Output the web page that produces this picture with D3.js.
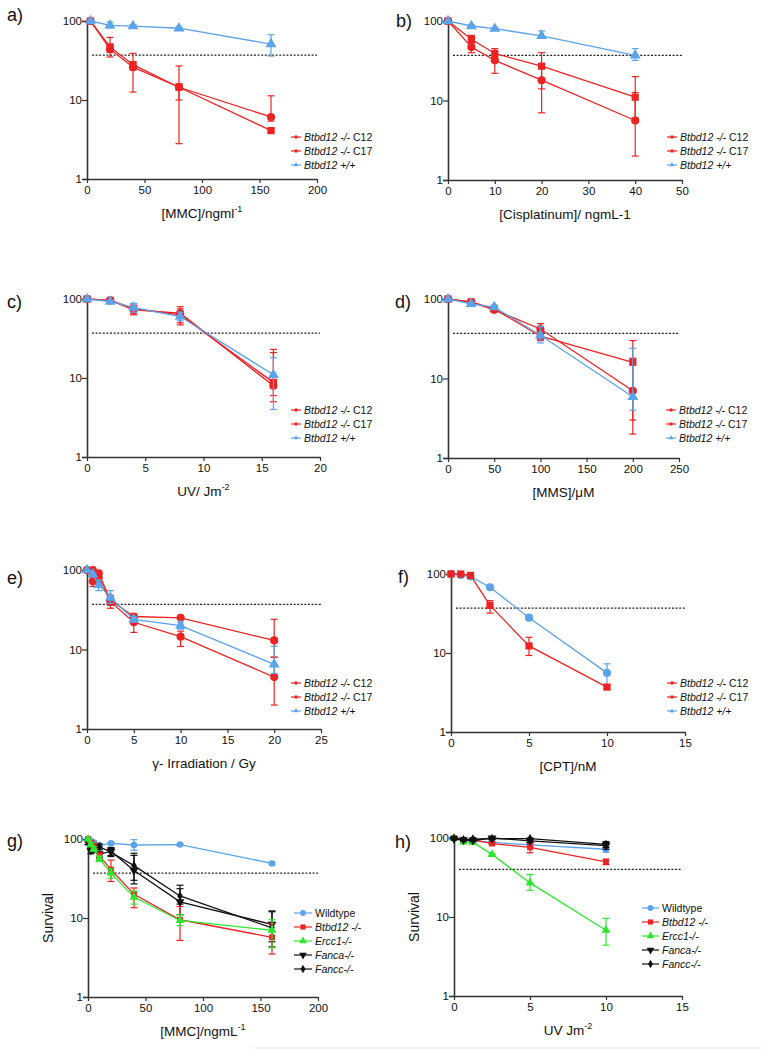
<!DOCTYPE html>
<html><head><meta charset="utf-8">
<script src="https://cdn.jsdelivr.net/npm/d3@7"></script>
<style>body{margin:0;background:#fff;} text{font-family:Arial,"Liberation Sans",sans-serif;fill:#111;}</style>
</head><body><svg id="c" width="762" height="1049"></svg>
<script>
// ---------- DATA ----------
// a) MMC
const aDose = [3, 20, 40, 80, 160];
const aC12 = [100, 44, 26, 14.5, 6.1], aC12Lo = [100, 35, 12.6, 2.8, 5.4], aC12Hi = [100, 50, 30, 27, 11.3];
const aC17 = [100, 47, 28, 14.5, 4.1], aC17Lo = [100, 40, 24, 10, 3.9], aC17Hi = [100, 62, 39, 16, 4.3];
const aWT = [100, 88, 86, 81, 51], aWTLo = [100, 82, 82, 78, 36], aWTHi = [100, 97, 90, 84, 67];
// b) Cisplatinum
const bDose = [0, 5, 10, 20, 40];
const bC12 = [100, 47, 32, 18, 5.6], bC12Lo = [100, 40, 22, 7, 2], bC12Hi = [100, 53, 38, 28, 12.6];
const bC17 = [100, 59, 39, 27, 11], bC17Lo = [100, 53, 34, 14, 6], bC17Hi = [100, 66, 45, 40, 20];
const bWT = [100, 86.5, 80, 65, 37], bWTLo = [100, 84, 78, 62, 32], bWTHi = [100, 89, 82, 75, 45];
// c) UV
const cDose = [0, 2, 4, 8, 16];
const cC12 = [100, 96, 73, 66, 8], cC12Lo = [100, 93, 63, 47, 5], cC12Hi = [100, 99, 80, 80, 23];
const cC17 = [100, 96, 76, 63, 8.8], cC17Lo = [100, 93, 65, 50, 6], cC17Hi = [100, 99, 87, 75, 21];
const cWT = [100, 93, 78, 60, 11], cWTLo = [100, 90, 68, 53, 4], cWTHi = [100, 96, 88, 68, 18];
// d) MMS
const dDose = [0, 25, 50, 100, 200];
const dC12 = [100, 91, 73, 42, 7], dC12Lo = [100, 88, 70, 36, 3], dC12Hi = [100, 94, 76, 49, 18];
const dC17 = [100, 92, 75, 34, 16], dC17Lo = [100, 89, 71, 30, 2], dC17Hi = [100, 95, 79, 38, 30];
const dWT = [100, 87, 79, 35, 5.9], dWTLo = [100, 84, 74, 28, 4], dWTHi = [100, 90, 84, 45, 24];
// e) gamma irradiation
const eDose = [0, 0.625, 1.25, 2.5, 5, 10, 20];
const eC12 = [100, 100, 91, 42, 26, 25, 13], eC12Lo = [100, 98, 85, 36, 24, 24, 8], eC12Hi = [100, 100, 96, 48, 28, 26, 24];
const eC17 = [100, 72, 80, 40, 22, 14.5, 4.5], eC17Lo = [100, 62, 70, 33, 16.4, 10.9, 2], eC17Hi = [100, 82, 90, 47, 26, 17, 8];
const eWT = [100, 88, 65, 45, 24, 20, 6.5], eWTLo = [100, 85, 55, 38, 22, 18, 5], eWTHi = [100, 91, 75, 55, 26, 22, 11];
// f) CPT
const fDose = [0, 0.625, 1.25, 2.5, 5, 10];
const fC17 = [100, 100, 96, 40, 12.3, 3.7], fC17Lo = [100, 98, 93, 32, 9.3, 3.5], fC17Hi = [100, 100, 99, 46, 15.8, 3.9];
const fWT = [100, 97, 93, 68, 28, 5.6], fWTLo = [100, 95, 91, 66, 27, 3.9], fWTHi = [100, 99, 95, 70, 29.5, 7.3];
// g) MMC, five genotypes
const gDose = [0, 2.5, 5, 10, 20, 40, 80, 160];
const gWT = [100, 95, 90, 83, 88, 84, 85, 49], gWTLo = [100, 92, 86, 80, 85, 72, 83, 47], gWTHi = [100, 98, 94, 86, 91, 98, 87, 51];
const gBtbd = [100, 90, 80, 61, 41, 20, 9.5, 5.7], gBtbdLo = [100, 85, 72, 55, 29, 13.5, 5.2, 3.5], gBtbdHi = [100, 95, 88, 67, 54, 24, 14, 8.5];
const gErcc = [100, 85, 75, 56, 37, 18.4, 9.3, 7], gErccLo = [100, 80, 70, 52, 32, 15, 8, 4.2], gErccHi = [100, 90, 80, 60, 42, 22, 11, 9.5];
const gFanca = [90, 72, 80, 64, 70, 40, 16, 8.3], gFancaLo = [85, 65, 72, 58, 62, 27, 11, 5], gFancaHi = [95, 80, 88, 70, 78, 62, 23.5, 12.3];
const gFancc = [90, 80, 75, 80, 68, 46, 19, 7.5], gFanccLo = [85, 72, 68, 74, 60, 30, 15, 4.3], gFanccHi = [95, 88, 82, 86, 76, 66, 26, 12];
// h) UV, five genotypes
const hDose = [0, 0.625, 1.25, 2.5, 5, 10];
const hWT = [100, 93, 92, 88, 82, 72], hWTLo = [100, 90, 89, 85, 78, 66], hWTHi = [100, 96, 95, 91, 86, 78];
const hBtbd = [100, 95, 95, 85, 76, 50], hBtbdLo = [100, 92, 92, 82, 65, 46], hBtbdHi = [100, 98, 98, 88, 85, 54];
const hErcc = [100, 89, 88, 62, 27, 6.8], hErccLo = [100, 85, 85, 60, 21.8, 4.4], hErccHi = [100, 93, 91, 64, 34.5, 9.6];
const hFanca = [98, 95, 93, 100, 92, 80], hFancaLo = [95, 92, 90, 96, 88, 72], hFancaHi = [101, 98, 96, 104, 96, 88];
const hFancc = [98, 95, 97, 98, 98, 83], hFanccLo = [95, 92, 94, 95, 94, 76], hFanccHi = [101, 98, 100, 101, 102, 90];
// reference thresholds (dotted line)
const thresholds = {a: 37, b: 37, c: 37, d: 37, e: 37, f: 37, g: 37, h: 40};
const xMaxes = {a: 200, b: 50, c: 20, d: 250, e: 25, f: 15, g: 200, h: 15};
const xSteps = {a: 50, b: 10, c: 5, d: 50, e: 5, f: 5, g: 50, h: 5};
const yTickLabels = [1, 10, 100];

// ---------- STYLE ----------
const RED = "#ee2222", BLUE = "#5ba3ea", GREEN = "#2ee62e", BLACK = "#111111";
const legC12 = [{t: "Btbd12 -/-", i: true}, {t: " C12", i: false}];
const legC17 = [{t: "Btbd12 -/-", i: true}, {t: " C17", i: false}];
const legWT = [{t: "Btbd12 +/+", i: true}];
const ser = (x, y, lo, hi, color, shape) => ({x, y, lo, hi, color, shape});

const panels = [
  {k: "a", box: [87, 317, 21, 179], lab: [7, 21],
   title: [{t: "[MMC]/ngml"}, {t: "-1", sup: true}],
   series: [ser(aDose, aC12, aC12Lo, aC12Hi, RED, "circle"), ser(aDose, aC17, aC17Lo, aC17Hi, RED, "square"), ser(aDose, aWT, aWTLo, aWTHi, BLUE, "triangle")],
   legend: {x: 291, y: 137, len: 10, big: false, items: [[legC12, RED, "circle"], [legC17, RED, "square"], [legWT, BLUE, "triangle"]]}},
  {k: "b", box: [448, 682, 21, 180], lab: [396, 27],
   title: [{t: "[Cisplatinum]/ ngmL-1"}],
   series: [ser(bDose, bC12, bC12Lo, bC12Hi, RED, "circle"), ser(bDose, bC17, bC17Lo, bC17Hi, RED, "square"), ser(bDose, bWT, bWTLo, bWTHi, BLUE, "triangle")],
   legend: {x: 667, y: 137, len: 10, big: false, items: [[legC12, RED, "square"], [legC17, RED, "square"], [legWT, BLUE, "triangle"]]}},
  {k: "c", box: [87, 320, 299, 457], lab: [7, 308],
   title: [{t: "UV/ Jm"}, {t: "-2", sup: true}],
   series: [ser(cDose, cC12, cC12Lo, cC12Hi, RED, "circle"), ser(cDose, cC17, cC17Lo, cC17Hi, RED, "square"), ser(cDose, cWT, cWTLo, cWTHi, BLUE, "triangle")],
   legend: {x: 291, y: 410, len: 10, big: false, items: [[legC12, RED, "circle"], [legC17, RED, "square"], [legWT, BLUE, "triangle"]]}},
  {k: "d", box: [448, 679, 299, 458], lab: [395, 308],
   title: [{t: "[MMS]/μM"}],
   series: [ser(dDose, dC12, dC12Lo, dC12Hi, RED, "circle"), ser(dDose, dC17, dC17Lo, dC17Hi, RED, "square"), ser(dDose, dWT, dWTLo, dWTHi, BLUE, "triangle")],
   legend: {x: 666, y: 410, len: 10, big: false, items: [[legC12, RED, "circle"], [legC17, RED, "square"], [legWT, BLUE, "triangle"]]}},
  {k: "e", box: [87, 321, 570, 729], lab: [7, 584],
   title: [{t: "γ- Irradiation / Gy"}],
   series: [ser(eDose, eC12, eC12Lo, eC12Hi, RED, "circle"), ser(eDose, eC17, eC17Lo, eC17Hi, RED, "circle"), ser(eDose, eWT, eWTLo, eWTHi, BLUE, "triangle")],
   legend: {x: 291, y: 683, len: 10, big: false, items: [[legC12, RED, "circle"], [legC17, RED, "square"], [legWT, BLUE, "triangle"]]}},
  {k: "f", box: [451, 685, 574, 732], lab: [398, 583],
   title: [{t: "[CPT]/nM"}],
   series: [ser(fDose, fWT, fWTLo, fWTHi, BLUE, "circle"), ser(fDose, fC17, fC17Lo, fC17Hi, RED, "square")],
   legend: {x: 667, y: 683, len: 10, big: false, items: [[legC12, RED, "circle"], [legC17, RED, "square"], [legWT, BLUE, "circle"]]}},
  {k: "g", box: [88, 318, 839, 997], lab: [7, 847], ytitle: true,
   title: [{t: "[MMC]/ngmL"}, {t: "-1", sup: true}],
   series: [ser(gDose, gWT, gWTLo, gWTHi, BLUE, "circle"), ser(gDose, gFanca, gFancaLo, gFancaHi, BLACK, "tdown"), ser(gDose, gFancc, gFanccLo, gFanccHi, BLACK, "diamond"), ser(gDose, gBtbd, gBtbdLo, gBtbdHi, RED, "square"), ser(gDose, gErcc, gErccLo, gErccHi, GREEN, "triangle")],
   legend: {x: 294, y: 913, len: 18, big: true, items: [[[{t: "Wildtype"}], BLUE, "circle"], [[{t: "Btbd12 -/-", i: true}], RED, "square"], [[{t: "Ercc1-/-", i: true}], GREEN, "triangle"], [[{t: "Fanca-/-", i: true}], BLACK, "tdown"], [[{t: "Fancc-/-", i: true}], BLACK, "diamond"]]}},
  {k: "h", box: [454, 682, 838, 996], lab: [395, 848], ytitle: true,
   title: [{t: "UV Jm"}, {t: "-2", sup: true}],
   series: [ser(hDose, hWT, hWTLo, hWTHi, BLUE, "circle"), ser(hDose, hBtbd, hBtbdLo, hBtbdHi, RED, "square"), ser(hDose, hErcc, hErccLo, hErccHi, GREEN, "triangle"), ser(hDose, hFanca, hFancaLo, hFancaHi, BLACK, "tdown"), ser(hDose, hFancc, hFanccLo, hFanccHi, BLACK, "diamond")],
   legend: {x: 642, y: 908, len: 17, big: true, items: [[[{t: "Wildtype"}], BLUE, "circle"], [[{t: "Btbd12 -/-", i: true}], RED, "square"], [[{t: "Ercc1-/-", i: true}], GREEN, "triangle"], [[{t: "Fanca-/-", i: true}], BLACK, "tdown"], [[{t: "Fancc-/-", i: true}], BLACK, "diamond"]]}}
];

const svg = d3.select("#c");
svg.append("rect").attr("width", 762).attr("height", 1049).attr("fill", "#fff");

function symbolPath(shape, size) {
  const t = {circle: d3.symbolCircle, square: d3.symbolSquare, triangle: d3.symbolTriangle, tdown: d3.symbolTriangle, diamond: d3.symbolDiamond}[shape];
  return d3.symbol().type(t).size(shape === "diamond" ? size * 0.8 : size)();
}
function drawMarker(g, shape, x, y, size, color) {
  g.append("path").attr("d", symbolPath(shape, size))
    .attr("transform", `translate(${x},${y})` + (shape === "tdown" ? " rotate(180)" : ""))
    .attr("fill", color);
}

panels.forEach(p => {
  const [x0, x1, y0, y1] = p.box;
  const xs = d3.scaleLinear().domain([0, xMaxes[p.k]]).range([x0, x1]);
  const ys = d3.scaleLog().domain([1, 100]).range([y1, y0]).clamp(true);
  const g = svg.append("g");

  // panel label
  g.append("text").attr("x", p.lab[0]).attr("y", p.lab[1]).attr("font-size", 18).text(p.k + ")");

  // threshold dotted line
  g.append("line").attr("x1", x0 + 5).attr("x2", x1).attr("y1", ys(thresholds[p.k])).attr("y2", ys(thresholds[p.k]))
    .attr("stroke", "#222").attr("stroke-width", 1.2).attr("stroke-dasharray", "2,1.6");

  // y axis
  const yMinor = [];
  for (let d = 1; d <= 10; d *= 10) for (let m = 2; m <= 9; m++) yMinor.push(d * m);
  const yAx = g.append("g").attr("transform", `translate(${x0},0)`);
  yAx.call(d3.axisLeft(ys).tickValues(yMinor).tickSize(3).tickFormat(""));
  yAx.call(d3.axisLeft(ys).tickValues(yTickLabels).tickSize(5).tickFormat(d3.format("d")));
  yAx.selectAll("path.domain").attr("stroke", "#333").attr("stroke-width", 1.6);
  yAx.selectAll(".tick line").attr("stroke", "#333").attr("stroke-width", 1.2);
  yAx.selectAll(".tick text").attr("font-size", 11.5).attr("font-family", "Arial, 'Liberation Sans', sans-serif").attr("fill", "#111").attr("x", -5);

  // x axis
  const xAx = g.append("g").attr("transform", `translate(0,${y1})`);
  xAx.call(d3.axisBottom(xs).tickValues(d3.range(0, xMaxes[p.k] + 0.001, xSteps[p.k])).tickSize(4).tickSizeOuter(0).tickFormat(d3.format("d")));
  xAx.selectAll("path.domain").attr("stroke", "#333").attr("stroke-width", 1.6);
  xAx.selectAll(".tick line").attr("stroke", "#333").attr("stroke-width", 1.2);
  xAx.selectAll(".tick text").attr("font-size", 11.5).attr("font-family", "Arial, 'Liberation Sans', sans-serif").attr("fill", "#111").attr("y", 7);

  // x title
  const tt = g.append("text").attr("x", (x0 + x1) / 2).attr("y", y1 + 39).attr("text-anchor", "middle").attr("font-size", 13.5);
  p.title.forEach(s => {
    const ts = tt.append("tspan").text(s.t);
    if (s.sup) ts.attr("font-size", 9).attr("dy", -6);
  });
  if (p.ytitle) {
    g.append("text").attr("transform", `translate(${x0 - 35},${(y0 + y1) / 2}) rotate(-90)`)
      .attr("text-anchor", "middle").attr("font-size", 14).text("Survival");
  }

  // series
  const big = p.legend.big;
  const mSize = big ? 34 : 52;
  p.series.forEach(s => {
    const pts = s.x.map((x, i) => ({x, y: s.y[i], lo: s.lo[i], hi: s.hi[i]}));
    g.append("path").datum(pts).attr("fill", "none").attr("stroke", s.color).attr("stroke-width", 1.3)
      .attr("d", d3.line().x(d => xs(d.x)).y(d => ys(d.y)));
    pts.forEach(d => {
      if (d.hi !== d.lo) {
        const cx = xs(d.x), ya = ys(d.hi), yb = ys(Math.max(d.lo, 1));
        g.append("line").attr("x1", cx).attr("x2", cx).attr("y1", ya).attr("y2", yb).attr("stroke", s.color).attr("stroke-width", 1.2);
        [ya, yb].forEach(yy => g.append("line").attr("x1", cx - 3.5).attr("x2", cx + 3.5).attr("y1", yy).attr("y2", yy).attr("stroke", s.color).attr("stroke-width", 1.2));
      }
      drawMarker(g, s.shape, xs(d.x), ys(d.y), mSize, s.color);
    });
  });

  // legend
  const L = p.legend;
  L.items.forEach((it, i) => {
    const ly = L.y + i * 14;
    g.append("line").attr("x1", L.x).attr("x2", L.x + L.len).attr("y1", ly).attr("y2", ly).attr("stroke", it[1]).attr("stroke-width", 1.2);
    drawMarker(g, it[2], L.x + L.len / 2, ly, big ? 26 : 9, it[1]);
    const t = g.append("text").attr("x", L.x + L.len + 3).attr("y", ly + 3.6).attr("font-size", 10.5);
    it[0].forEach(s => t.append("tspan").text(s.t).attr("font-style", s.i ? "italic" : "normal"));
  });
});

// faint bottom rule
svg.append("line").attr("x1", 254).attr("x2", 762).attr("y1", 1048).attr("y2", 1048).attr("stroke", "#e6e6e6").attr("stroke-width", 1);
</script></body></html>
